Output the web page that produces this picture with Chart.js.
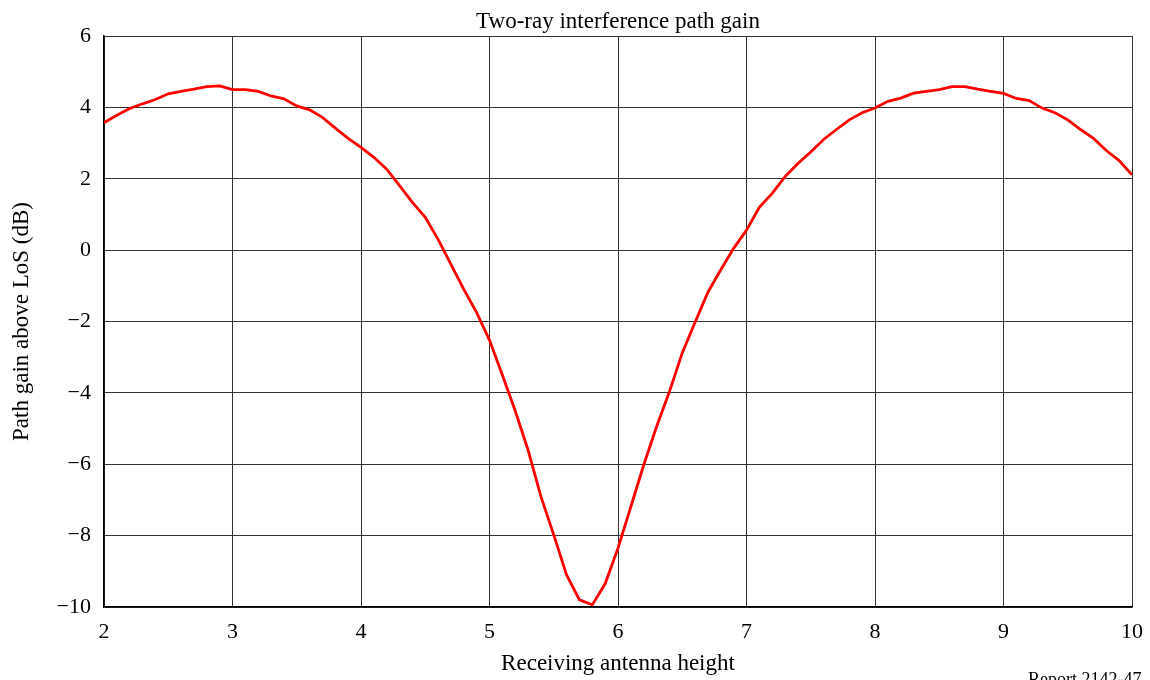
<!DOCTYPE html>
<html>
<head>
<meta charset="utf-8">
<title>Two-ray interference path gain</title>
<script src="https://cdn.jsdelivr.net/npm/chart.js@4.4.1/dist/chart.umd.min.js"></script>
<style>
  html, body { margin: 0; padding: 0; background: #fff; }
  #wrap { width: 1150px; height: 680px; position: relative; }
</style>
</head>
<body>
<div id="wrap"><canvas id="gainChart" width="1150" height="680"></canvas></div>
<script>
// --- DATA ---
const heights = [
  2.0, 2.1, 2.2, 2.3, 2.4, 2.5, 2.6, 2.7, 2.8, 2.9,
  3.0, 3.1, 3.2, 3.3, 3.4, 3.5, 3.6, 3.7, 3.8, 3.9,
  4.0, 4.1, 4.2, 4.3, 4.4, 4.5, 4.6, 4.7, 4.8, 4.9,
  5.0, 5.1, 5.2, 5.3, 5.4, 5.5, 5.6, 5.7, 5.8, 5.9,
  6.0, 6.1, 6.2, 6.3, 6.4, 6.5, 6.6, 6.7, 6.8, 6.9,
  7.0, 7.1, 7.2, 7.3, 7.4, 7.5, 7.6, 7.7, 7.8, 7.9,
  8.0, 8.1, 8.2, 8.3, 8.4, 8.5, 8.6, 8.7, 8.8, 8.9,
  9.0, 9.1, 9.2, 9.3, 9.4, 9.5, 9.6, 9.7, 9.8, 9.9,
  10.0
];
const gainDb = [
  3.57, 3.78, 3.97, 4.10, 4.22, 4.38, 4.45, 4.51, 4.58, 4.60,
  4.50, 4.50, 4.45, 4.32, 4.24, 4.04, 3.93, 3.72, 3.42, 3.13,
  2.88, 2.60, 2.27, 1.81, 1.34, 0.92, 0.30, -0.40, -1.10, -1.75,
  -2.52, -3.50, -4.50, -5.60, -6.90, -7.98, -9.10, -9.80, -9.94, -9.35,
  -8.35, -7.19, -6.02, -4.95, -3.97, -2.88, -2.02, -1.18, -0.55, 0.05,
  0.56, 1.20, 1.59, 2.06, 2.43, 2.75, 3.10, 3.38, 3.65, 3.85,
  3.98, 4.17, 4.26, 4.40, 4.45, 4.50, 4.58, 4.58, 4.51, 4.45,
  4.39, 4.25, 4.19, 3.98, 3.85, 3.65, 3.38, 3.13, 2.79, 2.51,
  2.11
];
const xTicks = [2, 3, 4, 5, 6, 7, 8, 9, 10];
const yTicks = [-10, -8, -6, -4, -2, 0, 2, 4, 6];

const SERIF = '"Liberation Serif", "Times New Roman", serif';
const GRID = '#333333';

// title centred over the plot area, plus the small report tag bottom right
const captions = {
  id: 'captions',
  afterDraw(chart) {
    const ctx = chart.ctx;
    const area = chart.chartArea;
    ctx.save();
    ctx.fillStyle = '#000';
    ctx.font = '23px ' + SERIF;
    ctx.textAlign = 'center';
    ctx.textBaseline = 'alphabetic';
    ctx.fillText('Two-ray interference path gain', (area.left + area.right) / 2, 28);
    ctx.font = '18px ' + SERIF;
    ctx.textAlign = 'left';
    ctx.textBaseline = 'top';
    ctx.fillText('Report 2142-47', 1028, 671);
    ctx.restore();
  }
};

new Chart(document.getElementById('gainChart'), {
  type: 'line',
  data: {
    datasets: [{
      data: heights.map((h, i) => ({ x: h, y: gainDb[i] })),
      borderColor: '#ff0000',
      borderWidth: 2.8,
      pointRadius: 0,
      tension: 0,
      fill: false
    }]
  },
  options: {
    responsive: false,
    animation: false,
    layout: { padding: { left: 0, right: 18, top: 36, bottom: 0 } },
    plugins: {
      legend: { display: false },
      tooltip: { enabled: false },
      title: { display: false }
    },
    scales: {
      x: {
        type: 'linear',
        min: 2,
        max: 10,
        afterBuildTicks: axis => { axis.ticks = xTicks.map(v => ({ value: v })); },
        afterFit: axis => {
          axis.height = 73;
          axis.paddingLeft = 0;
          axis.paddingRight = 0;
        },
        grid: { color: GRID, lineWidth: 1, drawTicks: false },
        border: { color: '#000', width: 1.5 },
        ticks: {
          color: '#000',
          padding: 12,
          maxRotation: 0,
          font: { family: SERIF, size: 22 }
        },
        title: {
          display: true,
          text: 'Receiving antenna height',
          color: '#000',
          font: { family: SERIF, size: 23, lineHeight: 1.2 },
          padding: { top: 0, bottom: 2 }
        }
      },
      y: {
        type: 'linear',
        min: -10,
        max: 6,
        afterBuildTicks: axis => { axis.ticks = yTicks.map(v => ({ value: v })); },
        afterFit: axis => {
          axis.width = 104;
          axis.paddingTop = 0;
          axis.paddingBottom = 0;
        },
        grid: { color: GRID, lineWidth: 1, drawTicks: false },
        border: { color: '#000', width: 1.5 },
        ticks: {
          color: '#000',
          padding: 13,
          font: { family: SERIF, size: 22 },
          callback: v => (v < 0 ? '\u2212' + Math.abs(v) : String(v))
        },
        title: {
          display: true,
          text: 'Path gain above LoS (dB)',
          color: '#000',
          font: { family: SERIF, size: 23, lineHeight: 1.2 },
          padding: { top: 8, bottom: 0 }
        }
      }
    }
  },
  plugins: [captions]
});
</script>
</body>
</html>
